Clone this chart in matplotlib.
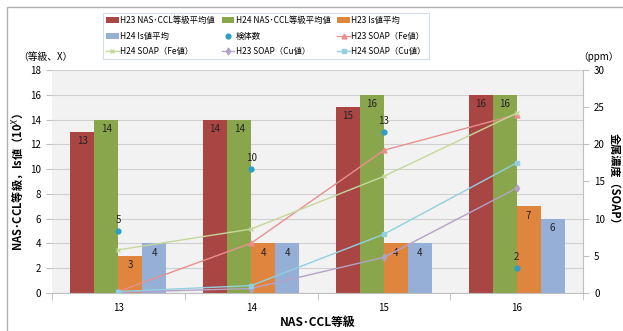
import matplotlib
matplotlib.use("Agg")
import matplotlib.pyplot as plt
import numpy as np
from matplotlib.patches import Rectangle

plt.rcParams["font.family"] = ["Noto Sans CJK JP", "DejaVu Sans"]

categories = ["13", "14", "15", "16"]
h23_nas = [13, 14, 15, 16]
h24_nas = [14, 14, 16, 16]
h23_is = [3, 4, 4, 7]
h24_is = [4, 4, 4, 6]
n_samples = [5, 10, 13, 2]
h23_fe = [0.2, 6.7, 19.2, 24.0]
h24_fe = [5.8, 8.6, 15.7, 24.2]
h23_cu = [0.1, 0.6, 4.8, 14.1]
h24_cu = [0.2, 1.0, 7.9, 17.5]

W, H = 623, 331
fig = plt.figure(figsize=(W / 100, H / 100), dpi=100)
fig.patches.append(Rectangle((7 / W, -0.1), 1.2, 1 - 7 / H + 0.1, transform=fig.transFigure,
                             fill=False, edgecolor="#b0b0b0", linewidth=1.0))

ax = fig.add_axes([52 / W, 38 / H, 531 / W, 223 / H])
ax.set_facecolor("#f2f2f2")
x = np.arange(len(categories))
bw = 0.181

bar_specs = [
    (h23_nas, "#a94644", "H23 NAS･CCL等級平均値", -1.5),
    (h24_nas, "#8aa64c", "H24 NAS･CCL等級平均値", -0.5),
    (h23_is, "#e0853d", "H23 Is値平均", 0.5),
    (h24_is, "#96afd7", "H24 Is値平均", 1.5),
]
handles = {}
for vals, col, lab, off in bar_specs:
    bars = ax.bar(x + off * bw, vals, bw, color=col, label=lab, zorder=2)
    handles[lab] = bars
    for xi, v in zip(x + off * bw, vals):
        ax.text(xi, v - 0.75, str(v), ha="center", va="center", fontsize=7, color="#222222", zorder=4)

sc = ax.scatter(x, n_samples, s=12, color="#2e9fc2", zorder=5, label="検体数")
handles["検体数"] = sc
for xi, v in zip(x, n_samples):
    ax.text(xi, v + 0.9, str(v), ha="center", va="center", fontsize=7, color="#222222", zorder=5)

ax.set_ylim(0, 18)
ax.set_yticks(range(0, 19, 2))
ax.set_xlim(-0.5, len(categories) - 0.5)
ax.set_xticks(x)
ax.set_xticklabels(categories)
ax.set_xticks(np.arange(-0.5, len(categories), 1.0), minor=True)
ax.tick_params(axis="x", which="major", length=0, labelsize=7, pad=7)
ax.tick_params(axis="x", which="minor", length=5, color="#bfbfbf")
ax.tick_params(axis="y", length=4, color="#bfbfbf", labelsize=7, pad=4)
ax.grid(axis="y", color="#d0d0d0", linewidth=0.8, zorder=0)
ax.set_axisbelow(True)
for s in ["top", "right", "left"]:
    ax.spines[s].set_visible(False)
ax.spines["bottom"].set_color("#bfbfbf")
ax.set_ylabel("NAS･CCL等級，Is値（10$^{X}$）", fontsize=8, fontweight="bold", labelpad=3)
ax.set_xlabel("NAS･CCL等級", fontsize=8.5, fontweight="bold", labelpad=2)

ax2 = ax.twinx()
line_specs = [
    (h23_fe, "#e8908e", "^", "H23 SOAP（Fe値）"),
    (h24_fe, "#c4d89c", "x", "H24 SOAP（Fe値）"),
    (h23_cu, "#b3a2c8", "d", "H23 SOAP（Cu値）"),
    (h24_cu, "#92cfe0", "s", "H24 SOAP（Cu値）"),
]
for vals, col, mk, lab in line_specs:
    (ln,) = ax2.plot(x, vals, color=col, marker=mk, markersize=3.5, linewidth=1.0, label=lab, zorder=3)
    handles[lab] = ln
ax2.set_ylim(0, 30)
ax2.set_yticks(range(0, 31, 5))
ax2.tick_params(axis="y", length=4, color="#bfbfbf", labelsize=7, pad=4)
for s in ["top", "left", "bottom"]:
    ax2.spines[s].set_visible(False)
ax2.spines["right"].set_color("#bfbfbf")
ax2.set_ylabel("金属濃度（SOAP）", fontsize=8, fontweight="bold", rotation=270, labelpad=11)

fig.text(18 / W, 1 - 57 / H, "（等級、X）", fontsize=7, va="center", ha="left")
fig.text(578 / W, 1 - 57 / H, "（ppm）", fontsize=7, va="center", ha="left")

order = ["H23 NAS･CCL等級平均値", "H24 Is値平均", "H24 SOAP（Fe値）",
         "H24 NAS･CCL等級平均値", "検体数", "H23 SOAP（Cu値）",
         "H23 Is値平均", "H23 SOAP（Fe値）", "H24 SOAP（Cu値）"]
leg = fig.legend([handles[k] for k in order], order, ncol=3, loc="center",
                 bbox_to_anchor=(266 / W, 1 - 36 / H), fontsize=6, frameon=True,
                 fancybox=False, edgecolor="#c8d4e4", handlelength=1.5,
                 columnspacing=0.8, handletextpad=0.2, labelspacing=0.75,
                 borderpad=0.4)
leg.get_frame().set_linewidth(0.8)

fig.savefig("out.png", dpi=100)
